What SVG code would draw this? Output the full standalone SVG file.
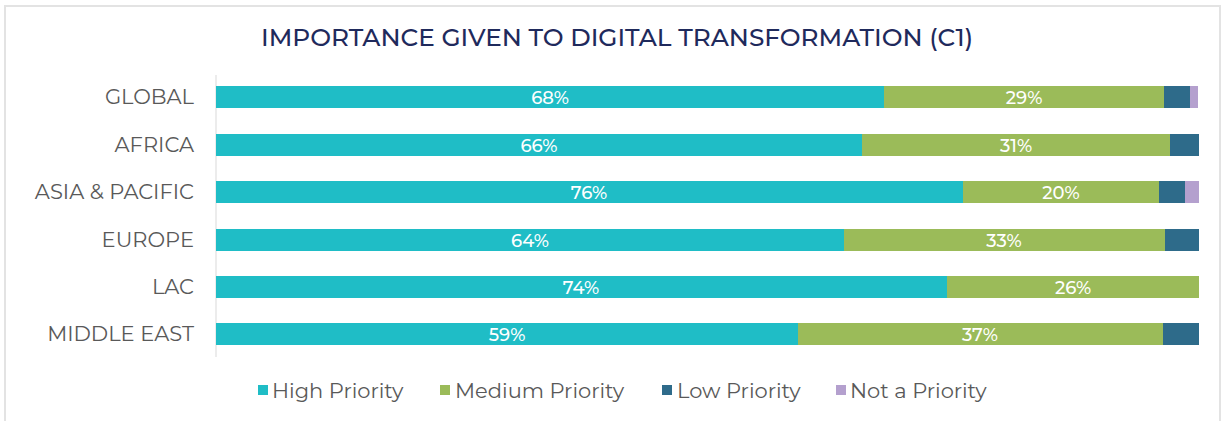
<svg xmlns="http://www.w3.org/2000/svg" width="1222" height="421" viewBox="0 0 1222 421">
<style>
.cat{font-family:"Montserrat","Open Sans","Liberation Sans",sans-serif;font-size:21px;fill:#595959;text-anchor:end}
.val{font-family:"Montserrat","Open Sans","Liberation Sans",sans-serif;font-size:18px;font-weight:500;fill:#ffffff;text-anchor:middle}
.leg{font-family:"Montserrat","Open Sans","Liberation Sans",sans-serif;font-size:21px;fill:#595959}
.hi{fill:#1FBDC6}.md{fill:#9BBB59}.lo{fill:#2E6B8A}.np{fill:#B4A0CE}
</style>
<rect x="0" y="0" width="1222" height="421" fill="#ffffff"/>
<rect x="5" y="6" width="1215" height="430" fill="none" stroke="#e3e3e3" stroke-width="2"/>
<text x="617" y="46" font-family="Montserrat,'Open Sans','Liberation Sans',sans-serif" font-size="24" font-weight="500" fill="#1F2A5C" text-anchor="middle" textLength="712" lengthAdjust="spacingAndGlyphs">IMPORTANCE GIVEN TO DIGITAL TRANSFORMATION (C1)</text>
<g id="axis"><line x1="216" y1="75" x2="216" y2="357" stroke="#d9d9d9" stroke-width="1"/></g>
<g id="global">
<text class="cat" x="194" y="104">GLOBAL</text>
<rect class="hi" x="216" y="86" width="668" height="22"/>
<rect class="md" x="884" y="86" width="280" height="22"/>
<rect class="lo" x="1164" y="86" width="26" height="22"/>
<rect class="np" x="1190" y="86" width="8" height="22"/>
<text class="val" x="550" y="104">68%</text>
<text class="val" x="1024" y="104">29%</text>
</g>
<g id="africa">
<text class="cat" x="194" y="152">AFRICA</text>
<rect class="hi" x="216" y="134" width="646" height="22"/>
<rect class="md" x="862" y="134" width="308" height="22"/>
<rect class="lo" x="1170" y="134" width="29" height="22"/>
<text class="val" x="539" y="152">66%</text>
<text class="val" x="1016" y="152">31%</text>
</g>
<g id="asia">
<text class="cat" x="194" y="199">ASIA &amp; PACIFIC</text>
<rect class="hi" x="216" y="181" width="747" height="22"/>
<rect class="md" x="963" y="181" width="196" height="22"/>
<rect class="lo" x="1159" y="181" width="26" height="22"/>
<rect class="np" x="1185" y="181" width="14" height="22"/>
<text class="val" x="589" y="199">76%</text>
<text class="val" x="1061" y="199">20%</text>
</g>
<g id="europe">
<text class="cat" x="194" y="247">EUROPE</text>
<rect class="hi" x="216" y="229" width="628" height="22"/>
<rect class="md" x="844" y="229" width="321" height="22"/>
<rect class="lo" x="1165" y="229" width="34" height="22"/>
<text class="val" x="530" y="247">64%</text>
<text class="val" x="1004" y="247">33%</text>
</g>
<g id="lac">
<text class="cat" x="194" y="294">LAC</text>
<rect class="hi" x="216" y="276" width="731" height="22"/>
<rect class="md" x="947" y="276" width="252" height="22"/>
<text class="val" x="581" y="294">74%</text>
<text class="val" x="1073" y="294">26%</text>
</g>
<g id="middleeast">
<text class="cat" x="194" y="341">MIDDLE EAST</text>
<rect class="hi" x="216" y="323" width="582" height="22"/>
<rect class="md" x="798" y="323" width="365" height="22"/>
<rect class="lo" x="1163" y="323" width="36" height="22"/>
<text class="val" x="507" y="341">59%</text>
<text class="val" x="980" y="341">37%</text>
</g>
<g id="legend">
<rect class="hi" x="258" y="385" width="10" height="10"/>
<text class="leg" x="272" y="398">High Priority</text>
<rect class="md" x="440" y="385" width="10" height="10"/>
<text class="leg" x="455" y="398">Medium Priority</text>
<rect class="lo" x="662" y="385" width="10" height="10"/>
<text class="leg" x="677" y="398">Low Priority</text>
<rect class="np" x="836" y="385" width="10" height="10"/>
<text class="leg" x="850" y="398">Not a Priority</text>
</g>
</svg>
